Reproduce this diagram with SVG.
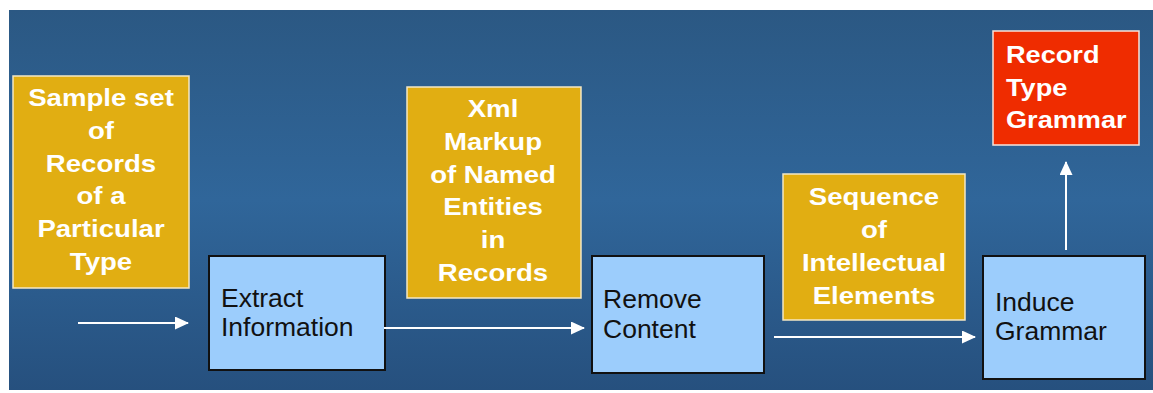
<svg xmlns="http://www.w3.org/2000/svg" width="1153" height="393" viewBox="0 0 1153 393">
<defs>
<linearGradient id="bg" x1="0" y1="0" x2="0" y2="1">
<stop offset="0" stop-color="#2b5883"/>
<stop offset="0.5" stop-color="#30669a"/>
<stop offset="1" stop-color="#26507e"/>
</linearGradient>
<marker id="ah" viewBox="0 0 14 13" refX="13" refY="6.5" markerWidth="14" markerHeight="13" markerUnits="userSpaceOnUse" orient="auto">
<path d="M0,0 L14,6.5 L0,13 Z" fill="#ffffff"/>
</marker>
<style>
.y{fill:#e1ae12;stroke:#f4e7c4;stroke-width:1.5}
.b{fill:#9ccdfc;stroke:#111111;stroke-width:2}
.r{fill:#ef2c00;stroke:#f6e4dc;stroke-width:1.5}
.wt{font-family:"Liberation Sans",Arial,sans-serif;font-weight:bold;font-size:23px;fill:#ffffff}
.c{text-anchor:middle}
.bt{font-family:"Liberation Sans",Arial,sans-serif;font-size:26.5px;fill:#111111}
.a{stroke:#ffffff;stroke-width:2;fill:none;marker-end:url(#ah)}
</style>
</defs>
<rect x="0" y="0" width="1153" height="393" fill="#ffffff"/>
<rect x="9" y="10" width="1144" height="380" fill="url(#bg)"/>

<g id="sample">
<rect class="y" x="13" y="76" width="176" height="212"/>
<g transform="translate(101,0) scale(1.2,1)">
<text class="wt c" x="0" y="106">Sample set</text>
<text class="wt c" x="0" y="139">of</text>
<text class="wt c" x="0" y="172">Records</text>
<text class="wt c" x="0" y="204">of a</text>
<text class="wt c" x="0" y="237">Particular</text>
<text class="wt c" x="0" y="270">Type</text>
</g>
</g>

<g id="extract">
<rect class="b" x="209" y="256" width="176" height="114"/>
<text class="bt" x="221" y="307">Extract</text>
<text class="bt" x="221" y="336">Information</text>
</g>

<g id="xml">
<rect class="y" x="407" y="87" width="174" height="211"/>
<g transform="translate(493,0) scale(1.2,1)">
<text class="wt c" x="0" y="117">Xml</text>
<text class="wt c" x="0" y="150">Markup</text>
<text class="wt c" x="0" y="183">of Named</text>
<text class="wt c" x="0" y="215">Entities</text>
<text class="wt c" x="0" y="248">in</text>
<text class="wt c" x="0" y="281">Records</text>
</g>
</g>

<g id="remove">
<rect class="b" x="592" y="256" width="172" height="117"/>
<text class="bt" x="603" y="308">Remove</text>
<text class="bt" x="603" y="338">Content</text>
</g>

<g id="sequence">
<rect class="y" x="783" y="174" width="182" height="146"/>
<g transform="translate(874,0) scale(1.2,1)">
<text class="wt c" x="0" y="205">Sequence</text>
<text class="wt c" x="0" y="238">of</text>
<text class="wt c" x="0" y="271">Intellectual</text>
<text class="wt c" x="0" y="304">Elements</text>
</g>
</g>

<g id="induce">
<rect class="b" x="983" y="256" width="162" height="123"/>
<text class="bt" x="995" y="311">Induce</text>
<text class="bt" x="995" y="340">Grammar</text>
</g>

<g id="grammar">
<rect class="r" x="993" y="31" width="146" height="114"/>
<g transform="translate(1006,0) scale(1.18,1)">
<text class="wt" x="0" y="63">Record</text>
<text class="wt" x="0" y="96">Type</text>
<text class="wt" x="0" y="128">Grammar</text>
</g>
</g>

<g id="connectors">
<line class="a" x1="78" y1="323" x2="188" y2="323"/>
<line class="a" x1="384" y1="328" x2="584" y2="328"/>
<line class="a" x1="774" y1="337" x2="975" y2="337"/>
<line class="a" x1="1066" y1="250" x2="1066" y2="162"/>
</g>
</svg>
